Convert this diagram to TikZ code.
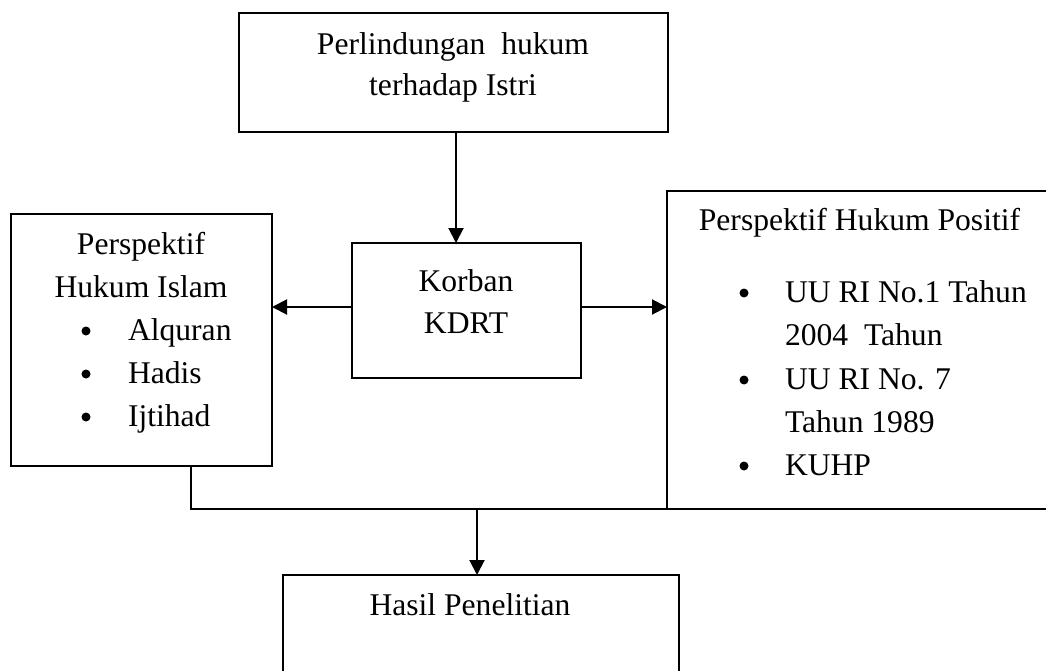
\documentclass[tikz,border=0pt]{standalone}
\usepackage{fontspec}
\setmainfont{Liberation Serif}
\usetikzlibrary{arrows.meta}
\begin{document}
\begin{tikzpicture}[x=1pt,y=-1pt,
  box/.style={draw, line width=2pt, inner sep=0pt, outer sep=0pt, rectangle},
  txt/.style={inner sep=0pt, outer sep=0pt, font=\fontsize{31.6}{43}\selectfont},
  arr/.style={line width=2pt, -{Triangle[length=15pt,width=15pt]}},
  conn/.style={line width=2pt},
  dot/.style={fill=black}]
\useasboundingbox (0,0) rectangle (1046,671);
\clip (0,0) rectangle (1046,671);
% boxes
\node[box, minimum width=429pt, minimum height=119pt] (top) at (453.5,72.5) {};
\node[box, minimum width=261pt, minimum height=252pt] (left) at (141.5,340) {};
\node[box, minimum width=229pt, minimum height=135pt] (mid) at (466.5,310.5) {};
\node[box, minimum width=390pt, minimum height=318pt] (right) at (862,350) {};
\node[box, minimum width=396pt, minimum height=110pt] (bot) at (481,630) {};
% top text
\node[txt, anchor=base] (t1) at (453,55) {Perlindungan\ \ hukum};
\node[txt, anchor=base] (t2) at (453,96) {terhadap Istri};
% left text
\node[txt, anchor=base] (l1) at (141,254) {Perspektif};
\node[txt, anchor=base] (l2) at (141,297) {Hukum Islam};
\node[txt, anchor=base west] (l3) at (128,340) {Alquran};
\node[txt, anchor=base west] (l4) at (128,383) {Hadis};
\node[txt, anchor=base west] (l5) at (128,426) {Ijtihad};
\fill[dot] (86,331) circle (4.5);
\fill[dot] (86,374) circle (4.5);
\fill[dot] (86,417) circle (4.5);
% middle text
\node[txt, anchor=base] (m1) at (466,291) {Korban};
\node[txt, anchor=base] (m2) at (466,333) {KDRT};
% right text
\node[txt, anchor=base] (r0) at (859.5,230) {Perspektif Hukum Positif};
\node[txt, anchor=base west] (r1) at (785,302) {UU RI No.1 Tahun};
\node[txt, anchor=base west] (r2) at (785,345) {2004\ \ Tahun};
\node[txt, anchor=base west] (r3) at (785,389) {UU RI No. 7};
\node[txt, anchor=base west] (r4) at (785,432) {Tahun 1989};
\node[txt, anchor=base west] (r5) at (785,475) {KUHP};
\fill[dot] (744,293) circle (4.5);
\fill[dot] (744,380) circle (4.5);
\fill[dot] (744,466) circle (4.5);
% bottom text
\node[txt, anchor=base] (b1) at (470,615) {Hasil Penelitian};
% connectors
\draw[arr] ([xshift=2.5pt]top.south) -- ([xshift=2.5pt]top.south |- mid.north);
\draw[arr] ([yshift=3.5pt]mid.west) -- ([yshift=3.5pt]mid.west -| left.east);
\draw[arr] ([yshift=3.5pt]mid.east) -- ([yshift=3.5pt]mid.east -| right.west);
\coordinate (j1) at ([xshift=49.5pt]left.south);
\coordinate (j2) at (j1 |- right.south);
\coordinate (j3) at (715,509);
\coordinate (j4) at (477,509);
\draw[conn] (j1) -- (j2) -- (j3);
\draw[arr] (j4) -- (j4 |- bot.north);
\end{tikzpicture}
\end{document}
